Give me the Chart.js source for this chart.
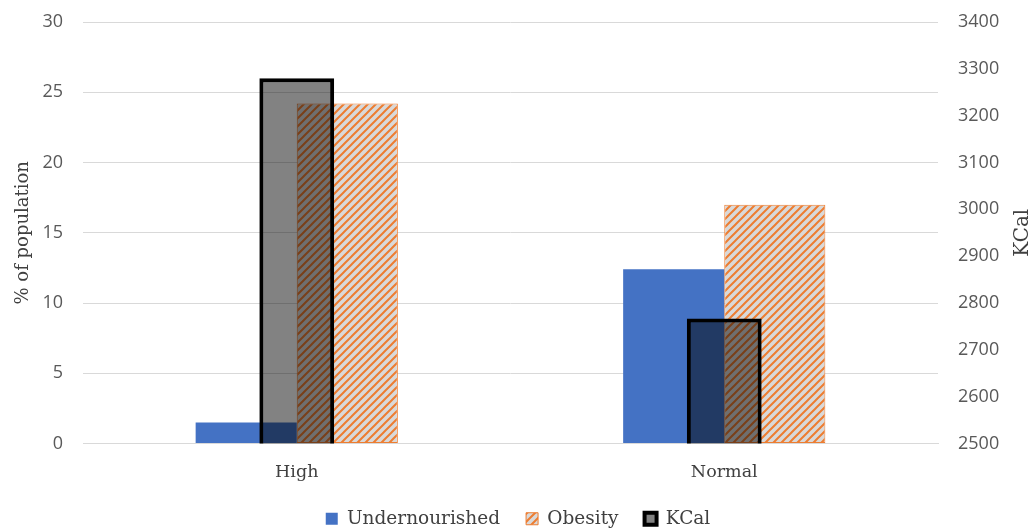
<!DOCTYPE html>
<html>
<head>
<meta charset="utf-8">
<script src="https://cdn.jsdelivr.net/npm/chart.js@4.4.1/dist/chart.umd.min.js"></script>
<style>
  html, body { margin: 0; padding: 0; background: #ffffff; }
  #wrap { width: 1036px; height: 532px; }
</style>
</head>
<body>
<div id="wrap"><canvas id="c" width="1036" height="532"></canvas></div>
<script>
const categories = ['High', 'Normal'];
const undernourished = [1.5, 12.4];
const obesity = [24.2, 17.0];
const kcal = [3280, 2767];
const leftTicks = [0, 5, 10, 15, 20, 25, 30];
const rightTicks = [2500, 2600, 2700, 2800, 2900, 3000, 3100, 3200, 3300, 3400];

function makeHatch() {
  const s = 8;
  const c = document.createElement('canvas');
  c.width = s; c.height = s;
  const g = c.getContext('2d');
  g.fillStyle = '#d9d9d9';
  g.fillRect(0, 0, s, s);
  g.strokeStyle = '#ed7d31';
  g.lineWidth = 2;
  g.beginPath();
  g.moveTo(-2, s + 2); g.lineTo(s + 2, -2);
  g.moveTo(-2, 2); g.lineTo(2, -2);
  g.moveTo(s - 2, s + 2); g.lineTo(s + 2, s - 2);
  g.stroke();
  return g.createPattern(c, 'repeat');
}
const hatch = makeHatch();

const serif = "'DejaVu Serif', 'Liberation Serif', serif";
const sans = "'Open Sans', 'Liberation Sans', sans-serif";

const rightTitlePlugin = {
  id: 'rightTitle',
  afterDraw(chart) {
    const ctx = chart.ctx;
    const a = chart.chartArea;
    ctx.save();
    ctx.translate(1023, (a.top + a.bottom) / 2);
    ctx.rotate(-Math.PI / 2);
    ctx.font = "20px " + serif;
    ctx.fillStyle = '#404040';
    ctx.textAlign = 'center';
    ctx.textBaseline = 'middle';
    ctx.fillText('KCal', 0, 0);
    ctx.restore();
  }
};

new Chart(document.getElementById('c'), {
  type: 'bar',
  data: {
    labels: categories,
    datasets: [
      {
        label: 'Undernourished',
        data: undernourished,
        backgroundColor: '#4472c4',
        borderWidth: 0,
        yAxisID: 'y',
        categoryPercentage: 0.473,
        barPercentage: 1.0,
        order: 1
      },
      {
        label: 'Obesity',
        data: obesity,
        backgroundColor: hatch,
        borderColor: '#ed7d31',
        borderWidth: 1,
        borderSkipped: false,
        yAxisID: 'y',
        categoryPercentage: 0.473,
        barPercentage: 1.0,
        order: 2
      },
      {
        label: 'KCal',
        data: kcal,
        backgroundColor: 'rgba(0,0,0,0.49)',
        borderColor: '#000000',
        borderWidth: 4,
        borderSkipped: false,
        yAxisID: 'y1',
        grouped: false,
        categoryPercentage: 0.175,
        barPercentage: 1.0,
        order: 0
      }
    ]
  },
  options: {
    responsive: false,
    animation: false,
    devicePixelRatio: 1,
    layout: { padding: { top: 22, left: 0, right: 0, bottom: -6 } },
    plugins: {
      tooltip: { enabled: false },
      legend: {
        position: 'bottom',
        labels: {
          sort: (a, b) => a.datasetIndex - b.datasetIndex,
          font: { family: serif, size: 18.5 },
          color: '#404040',
          boxWidth: 12,
          boxHeight: 12,
          padding: 26
        }
      }
    },
    scales: {
      x: {
        grid: { display: false },
        border: { display: true, color: '#d9d9d9', width: 1 },
        afterFit: (s) => { s.height = 40; },
        ticks: {
          font: { family: serif, size: 17.5 },
          color: '#404040',
          padding: 10
        }
      },
      y: {
        position: 'left',
        min: 0,
        max: 30,
        afterBuildTicks: (s) => { s.ticks = leftTicks.map(v => ({ value: v })); },
        afterFit: (s) => { s.width = 83; },
        grid: { color: '#d9d9d9', lineWidth: 1, drawTicks: true, tickLength: 20, tickColor: 'rgba(0,0,0,0)' },
        border: { display: false },
        ticks: {
          font: { family: sans, size: 18 },
          color: '#595959',
          padding: 0
        },
        title: {
          display: true,
          text: '% of population',
          font: { family: serif, size: 18 },
          color: '#404040',
          padding: { top: 13, bottom: 0 }
        }
      },
      y1: {
        position: 'right',
        min: 2500,
        max: 3400,
        afterBuildTicks: (s) => { s.ticks = rightTicks.map(v => ({ value: v })); },
        afterFit: (s) => { s.width = 98; },
        grid: { display: true, drawOnChartArea: false, drawTicks: true, tickLength: 20, tickColor: 'rgba(0,0,0,0)' },
        border: { display: false },
        ticks: {
          font: { family: sans, size: 18 },
          color: '#595959',
          padding: 0,
          callback: (v) => String(v)
        }
      }
    }
  },
  plugins: [rightTitlePlugin]
});
</script>
</body>
</html>
